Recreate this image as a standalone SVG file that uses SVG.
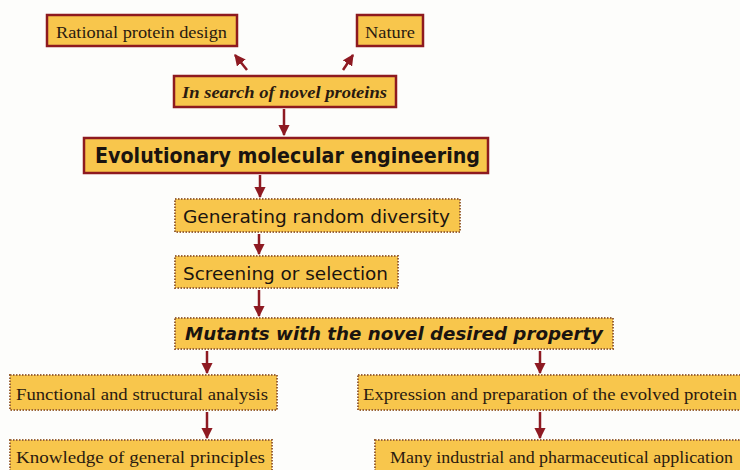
<svg xmlns="http://www.w3.org/2000/svg" width="740" height="470" viewBox="0 0 740 470">
<defs>
<marker id="ah" viewBox="0 0 10 10" refX="9" refY="5" markerWidth="4.5" markerHeight="4.5" orient="auto" markerUnits="strokeWidth">
<path d="M0,0 L10,5 L0,10 z" fill="#8e1a22"/>
</marker>
<style>
.solid{fill:#f8c64c;stroke:#8e1a1f;stroke-width:2.5}
.dot{fill:#f8c64c;stroke:#9a6438;stroke-width:2;stroke-dasharray:1.5 1.5}
.serif{font-family:"Liberation Serif","DejaVu Serif",serif;font-size:17px;fill:#2a1a10}
.sans{font-family:"DejaVu Sans",Verdana,sans-serif;fill:#1a1410}
.conn line{stroke:#8e1a22;stroke-width:2.5;marker-end:url(#ah)}
</style>
</defs>
<rect width="740" height="470" fill="#fdfdfb"/>
<g id="rational"><rect class="solid" x="47" y="15" width="190" height="31"/><text class="serif" x="56" y="38" textLength="171" lengthAdjust="spacingAndGlyphs">Rational protein design</text></g>
<g id="nature"><rect class="solid" x="357" y="15" width="66" height="31"/><text class="serif" x="365" y="38" textLength="50" lengthAdjust="spacingAndGlyphs">Nature</text></g>
<g id="search"><rect class="solid" x="174" y="76" width="222" height="31"/><text class="serif" x="182" y="98" font-weight="bold" font-style="italic" textLength="205" lengthAdjust="spacingAndGlyphs">In search of novel proteins</text></g>
<g id="evo"><rect class="solid" x="84" y="138" width="404" height="35" stroke-width="3"/><text class="sans" x="95" y="163" font-size="21" font-weight="bold" textLength="385" lengthAdjust="spacingAndGlyphs">Evolutionary molecular engineering</text></g>
<g id="gen"><rect class="dot" x="175" y="199" width="285" height="33"/><text class="sans" x="183" y="223" font-size="18" textLength="267" lengthAdjust="spacingAndGlyphs">Generating random diversity</text></g>
<g id="screen"><rect class="dot" x="175" y="256" width="223" height="32"/><text class="sans" x="183" y="280" font-size="18" textLength="205" lengthAdjust="spacingAndGlyphs">Screening or selection</text></g>
<g id="mutants"><rect class="dot" x="175" y="318" width="438" height="31"/><text class="sans" x="185" y="340" font-size="18" font-weight="bold" font-style="italic" textLength="418" lengthAdjust="spacingAndGlyphs">Mutants with the novel desired property</text></g>
<g id="func"><rect class="dot" x="10" y="375" width="267" height="35"/><text class="serif" x="16" y="400" textLength="252" lengthAdjust="spacingAndGlyphs">Functional and structural analysis</text></g>
<g id="know"><rect class="dot" x="10" y="440" width="262" height="34"/><text class="serif" x="16" y="463" textLength="249" lengthAdjust="spacingAndGlyphs">Knowledge of general principles</text></g>
<g id="expr"><rect class="dot" x="358" y="375" width="386" height="35"/><text class="serif" x="363" y="400" textLength="374" lengthAdjust="spacingAndGlyphs">Expression and preparation of the evolved protein</text></g>
<g id="many"><rect class="dot" x="375" y="440" width="370" height="34"/><text class="serif" x="390" y="463" textLength="343" lengthAdjust="spacingAndGlyphs">Many industrial and pharmaceutical application</text></g>
<g id="connectors" class="conn">
<line x1="247" y1="70" x2="235" y2="55"/>
<line x1="343" y1="70" x2="353" y2="55"/>
<line x1="284" y1="109" x2="284" y2="135"/>
<line x1="260" y1="175" x2="260" y2="197"/>
<line x1="259" y1="234" x2="259" y2="254"/>
<line x1="259" y1="290" x2="259" y2="316"/>
<line x1="207" y1="351" x2="207" y2="373"/>
<line x1="540" y1="351" x2="540" y2="373"/>
<line x1="207" y1="412" x2="207" y2="438"/>
<line x1="540" y1="412" x2="540" y2="438"/>
</g>
</svg>
